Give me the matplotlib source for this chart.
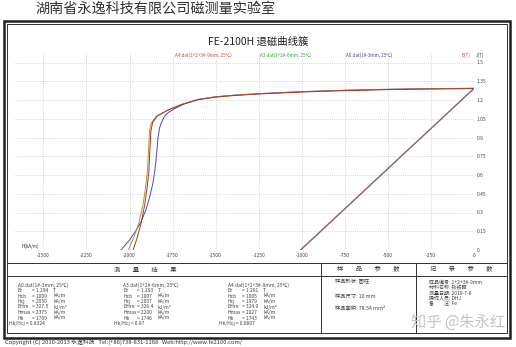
import numpy as np
import matplotlib
matplotlib.use('Agg')
import matplotlib.pyplot as plt
from matplotlib.patches import Rectangle

# demag curves, H in kA/m, J in T
a0_h = [0, -250, -500, -750, -1000, -1250, -1400, -1500, -1600, -1680, -1740, -1775, -1797,
        -1815, -1826, -1835, -1845, -1855, -1865, -1882, -1905, -1935, -1965, -2000, -2050]
a0_j = [1.294, 1.291, 1.286, 1.278, 1.267, 1.251, 1.238, 1.226, 1.205, 1.17, 1.13, 1.10, 1.07,
        1.02, 0.975, 0.895, 0.735, 0.615, 0.53, 0.43, 0.32, 0.22, 0.15, 0.08, 0.0]
a3_h = [0, -250, -500, -750, -1000, -1250, -1400, -1500, -1600, -1700, -1777, -1845,
        -1874, -1884, -1890, -1897, -1907, -1922, -1945, -1975, -2007]
a3_j = [1.293, 1.290, 1.285, 1.277, 1.266, 1.250, 1.237, 1.225, 1.205, 1.165, 1.12, 1.07,
        1.016, 0.95, 0.79, 0.62, 0.50, 0.36, 0.22, 0.10, 0.0]
a4_h = [0, -250, -500, -750, -1000, -1250, -1400, -1500, -1600, -1700, -1777, -1840,
        -1866, -1876, -1882, -1888, -1898, -1912, -1932, -1955, -1979]
a4_j = [1.291, 1.288, 1.283, 1.275, 1.264, 1.248, 1.235, 1.223, 1.203, 1.162, 1.12, 1.07,
        1.02, 0.95, 0.80, 0.62, 0.50, 0.36, 0.22, 0.10, 0.0]
# B lines (end points)
a0_bh = [0, -1009]
a0_b = [1.294, 0]
a3_bh = [0, -1007]
a3_b = [1.293, 0]
a4_bh = [0, -1005]
a4_b = [1.291, 0]

xticks = [-2500, -2250, -2000, -1750, -1500, -1250, -1000, -750, -500, -250, 0]
yticks = [0, 0.15, 0.3, 0.45, 0.6, 0.75, 0.9, 1.05, 1.2, 1.35, 1.5]
ylabels = ['0', '0.15', '0.3', '0.45', '0.6', '0.75', '0.9', '1.05', '1.2', '1.35', '1.5']

files = ['A0.dat(1#-3mm, 25℃)', 'A3.dat(1+2#-6mm, 25℃)', 'A4.dat(1+2+3#-9mm, 25℃)']
par_names = ['Br', 'Hcb', 'Hcj', 'BHm', 'Hmax', 'Hk']
par_units = ['T', 'kA/m', 'kA/m', 'kJ/m³', 'kA/m', 'kA/m']
a0_par = ['1.294', '1009', '2050', '327.5', '2375', '1709']
a3_par = ['1.293', '1007', '2007', '326.4', '2200', '1746']
a4_par = ['1.291', '1005', '1979', '324.9', '2027', '1743']
hk_ratio = ['0.8324', '0.87', '0.8807']

sample_items = ['样品形状: 圆柱', '样品尺寸: 10 mm', '样品面积: 78.54 mm²']
record_keys = ['样品编号', '材料名称', '测量日期', '操作人员', '备　　注']
record_vals = ['1+2+3#-9mm', '钕铁硼', '2019-7-6', 'DHJ', 'Fe']

plt.rcParams['font.family'] = ['Noto Sans CJK SC', 'DejaVu Sans']

W, H = 516, 347
fig = plt.figure(figsize=(W / 100, H / 100), dpi=100)
fig.patch.set_facecolor('white')

bg = fig.add_axes([0, 0, 1, 1])
bg.set_xlim(0, W)
bg.set_ylim(H, 0)
bg.axis('off')

# frame
bg.add_patch(Rectangle((3.5, 20.5), 506.5, 317, fill=False, lw=1.8, ec='#202020'))
bg.add_patch(Rectangle((7, 24), 500, 309, fill=False, lw=0.7, ec='#303030'))
bg.plot([7, 507], [263, 263], color='#303030', lw=0.7)
bg.plot([7, 507], [276, 276], color='#303030', lw=0.7)
bg.plot([321, 321], [263, 333], color='#303030', lw=0.7)
bg.plot([416, 416], [263, 333], color='#303030', lw=0.7)

bg.text(35, 9, '湖南省永逸科技有限公司磁测量实验室', fontsize=10.2, color='#303030',
        va='center', ha='left')
bg.text(258, 42, 'FE-2100H 退磁曲线簇', fontsize=7.5, color='#202020',
        va='center', ha='center')

# curve names at top
bg.text(175, 55, files[2], fontsize=3.3, color='#d04040', va='center')
bg.text(260, 55, files[1], fontsize=3.3, color='#30a030', va='center')
bg.text(346, 55, files[0], fontsize=3.3, color='#4040b0', va='center')
bg.text(461, 55, 'B(T)', fontsize=3.3, color='#d04040', va='center')
bg.text(476, 55, 'J(T)', fontsize=3.3, color='#404040', va='center')
bg.text(22, 246, 'H(kA/m)', fontsize=3.3, color='#303030', va='center')

# table headers
bg.text(145, 269.5, '测　　量　　结　　果', fontsize=4.5, color='#303030', ha='center', va='center')
bg.text(368, 269.5, '样　　品　　参　　数', fontsize=4.5, color='#303030', ha='center', va='center')
bg.text(461, 269.5, '记　　录　　参　　数', fontsize=4.5, color='#303030', ha='center', va='center')

# measurement results
row0, drow = 285, 5.5
tc = '#404040'
fs = 3.5
for cx, fname, vals, ratio in zip([18, 123, 228], files, [a0_par, a3_par, a4_par], hk_ratio):
    bg.text(cx, row0, fname, fontsize=fs, color=tc, va='center')
    for i, (n, v, u) in enumerate(zip(par_names, vals, par_units)):
        y = row0 + drow * (i + 1)
        bg.text(cx, y, n, fontsize=fs, color=tc, va='center')
        bg.text(cx + 14, y, '= ' + v, fontsize=fs, color=tc, va='center')
        bg.text(cx + 35, y, u, fontsize=fs, color=tc, va='center')
    bg.text(cx - 9, row0 + drow * 7, 'Hk/Hcj = ' + ratio, fontsize=fs, color=tc, va='center')

# sample parameters
for i, s in enumerate(sample_items):
    bg.text(335, 282 + 13.5 * i, s, fontsize=3.8, color=tc, va='center')

# record parameters
for i, (k, v) in enumerate(zip(record_keys, record_vals)):
    bg.text(429, 282 + 5.5 * i, k + ': ' + v, fontsize=3.6, color=tc, va='center')

# watermark
bg.text(458, 322, '知乎 @朱永红', fontsize=11, color='#c4c4c4', ha='center', va='center')

bg.text(5, 342, 'Copyright (C) 2010-2013 永逸科技   Tel:(+86)738-831-1168   Web:http://www.fe2100.com/',
        fontsize=4.2, color='#303030', va='center')

# chart
ax = fig.add_axes([15 / W, (H - 250) / H, (474 - 15) / W, 200 / H])
ax.set_xlim(-2665, 0)
ax.set_ylim(0, 1.6)
ax.patch.set_alpha(0)
for s in ax.spines.values():
    s.set_visible(False)
ax.set_xticks(xticks)
ax.set_xticklabels([str(t) for t in xticks])
ax.set_yticks(yticks)
ax.set_yticklabels(ylabels)
ax.yaxis.tick_right()
ax.tick_params(length=0, labelsize=3.5, labelcolor='#404040', pad=2)
for t in xticks[:-1]:
    ax.axvline(t, ymax=0.985, color='#c8c8c8', lw=0.6, ls=(0, (1, 1.5)), zorder=0)
for t in yticks[1:]:
    ax.axhline(t, color='#c8c8c8', lw=0.6, ls=(0, (1, 1.5)), zorder=0)
ax.axhline(0, color='#303030', lw=0.7, ls=(0, (2, 1.5)), zorder=1)
ax.axvline(0, ymax=0.97, color='#303030', lw=0.7, ls=(0, (2, 1.5)), zorder=1)

ax.plot(a0_bh, a0_b, color='#4040b0', lw=0.8, alpha=0.6)
ax.plot(a3_bh, a3_b, color='#30a030', lw=0.8, alpha=0.4)
ax.plot(a4_bh, a4_b, color='#b03040', lw=0.8, alpha=0.6)
ax.plot(a0_h, a0_j, color='#4a4ab8', lw=0.7)
ax.plot(a3_h, a3_j, color='#b89040', lw=0.7)
ax.plot(a4_h, a4_j, color='#a03828', lw=0.7)

fig.savefig('out.png', dpi=100)
